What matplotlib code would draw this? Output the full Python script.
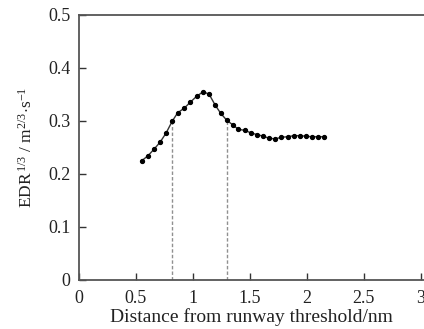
import matplotlib
matplotlib.use('Agg')
import matplotlib.pyplot as plt

# distance from runway threshold (nm) and EDR^(1/3) values
distance = [0.552, 0.605, 0.657, 0.713, 0.765, 0.818, 0.866, 0.925, 0.977, 1.032,
            1.091, 1.143, 1.195, 1.245, 1.298, 1.353, 1.399, 1.457, 1.512, 1.565,
            1.617, 1.673, 1.725, 1.777, 1.832, 1.887, 1.940, 1.992, 2.045, 2.103,
            2.155]
edr = [0.225, 0.234, 0.246, 0.260, 0.277, 0.299, 0.315, 0.324, 0.335, 0.346,
       0.355, 0.350, 0.330, 0.314, 0.301, 0.292, 0.284, 0.282, 0.277, 0.274,
       0.271, 0.267, 0.266, 0.269, 0.270, 0.272, 0.272, 0.271, 0.270, 0.270,
       0.270]

# dashed markers: indices of the points they reach up to
marker_idx = [5, 14]

x_ticks = [0, 0.5, 1, 1.5, 2, 2.5, 3]
x_ticklabels = ['0', '0.5', '1', '1.5', '2', '2.5', '3']
y_ticks = [0, 0.1, 0.2, 0.3, 0.4, 0.5]
y_ticklabels = ['0', '0.1', '0.2', '0.3', '0.4', '0.5']

plt.rcParams['font.family'] = ['Liberation Serif', 'DejaVu Serif']
plt.rcParams['mathtext.fontset'] = 'custom'
plt.rcParams['mathtext.rm'] = 'Liberation Serif'
plt.rcParams['mathtext.it'] = 'Liberation Serif:italic'

fig = plt.figure(figsize=(4.24, 3.29), dpi=100)
ax = fig.add_axes([79 / 424, 1 - 280 / 329, 1 - 79 / 424, (280 - 14.7) / 329])

ax.plot(distance, edr, color='#333333', lw=1.0, marker='o', ms=2.8,
        mfc='black', mec='black', zorder=3)

for i in marker_idx:
    ax.plot([distance[i], distance[i]], [0, edr[i]], color='#909090',
            lw=1.0, ls=(0, (2.5, 1.5)), zorder=2)

ax.set_xlim(0, 3.03)
ax.set_ylim(0, 0.5)
ax.set_xticks(x_ticks)
ax.set_xticklabels(x_ticklabels)
ax.set_yticks(y_ticks)
ax.set_yticklabels(y_ticklabels)

ax.tick_params(direction='in', length=5, width=1.0, colors='#333333',
               labelsize=13, labelcolor='#222222')
ax.tick_params(axis='x', pad=7)
ax.tick_params(axis='y', pad=6)

for side in ['left', 'bottom', 'top']:
    ax.spines[side].set_linewidth(1.3)
    ax.spines[side].set_color('#555555')
ax.spines['right'].set_visible(False)

ax.set_xlabel('Distance from runway threshold/nm', fontsize=14, color='#222222',
              labelpad=1)
ax.set_ylabel(r'EDR$^{\,\mathrm{1/3}}$ / m$^{\mathrm{2/3}}$$\cdot$s$^{\mathrm{-1}}$',
              fontsize=12.5, color='#222222', labelpad=9)

fig.savefig('out.png', dpi=100)
plt.close(fig)
